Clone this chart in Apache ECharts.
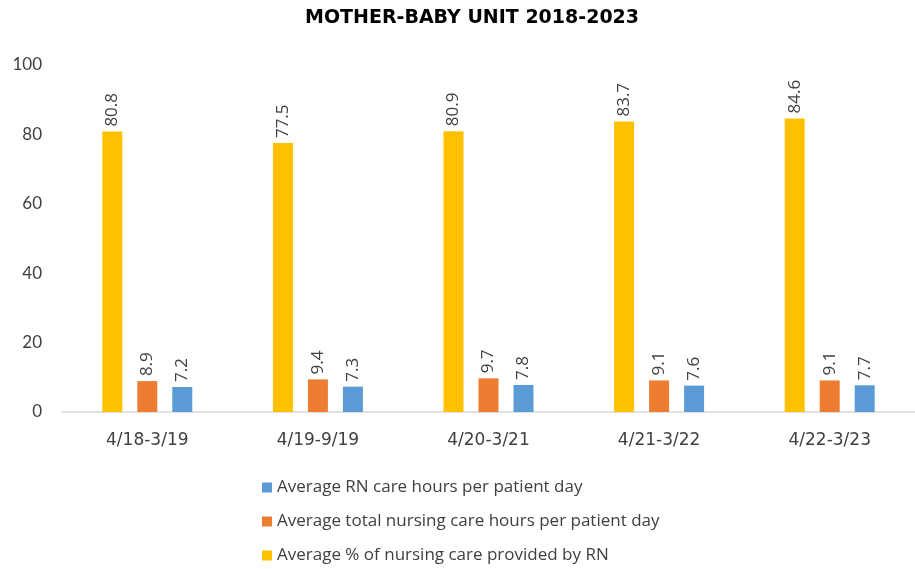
<!DOCTYPE html>
<html>
<head>
<meta charset="utf-8">
<script src="https://cdn.jsdelivr.net/npm/echarts@6/dist/echarts.min.js"></script>
<style>
  html, body { margin: 0; padding: 0; background: #fff; }
  #chart { width: 915px; height: 569px; }
</style>
</head>
<body>
<div id="chart"></div>
<script>
// 数据
const periods = ['4/18-3/19', '4/19-9/19', '4/20-3/21', '4/21-3/22', '4/22-3/23'];
const pctByRN = [80.8, 77.5, 80.9, 83.7, 84.6];
const totalHours = [8.9, 9.4, 9.7, 9.1, 9.1];
const rnHours = [7.2, 7.3, 7.8, 7.6, 7.7];
const yTicks = [0, 20, 40, 60, 80, 100];

const names = {
  rn: 'Average RN care hours per patient day',
  total: 'Average total nursing care hours per patient day',
  pct: 'Average % of nursing care provided by RN'
};

const font = 'Lato, "Open Sans", sans-serif';
const wideFont = '"Open Sans", Lato, sans-serif';
const labelStyle = {
  show: true,
  position: 'top',
  rotate: 90,
  align: 'left',
  verticalAlign: 'middle',
  distance: 5,
  fontSize: 17,
  fontFamily: wideFont,
  color: '#404040'
};

function barSeries(name, data, color) {
  return {
    name: name,
    type: 'bar',
    data: data,
    barWidth: 20,
    barGap: '75%',
    itemStyle: { color: color },
    label: labelStyle
  };
}

const chart = echarts.init(document.getElementById('chart'));
chart.setOption({
  animation: false,
  title: {
    text: 'MOTHER-BABY UNIT 2018-2023',
    left: 300,
    top: 4,
    textStyle: { fontSize: 19, fontWeight: 'bold', fontFamily: '"DejaVu Sans", sans-serif', color: '#000' }
  },
  legend: {
    orient: 'vertical',
    left: 262,
    top: 479,
    height: 90,
    padding: 0,
    itemWidth: 10,
    itemHeight: 10,
    itemGap: 17,
    icon: 'rect',
    data: [names.rn, names.total, names.pct],
    textStyle: { fontSize: 17, fontFamily: wideFont, color: '#404040' }
  },
  grid: { left: 62, right: 0, top: 65, bottom: 157, containLabel: false },
  xAxis: {
    type: 'category',
    data: periods,
    axisLine: { lineStyle: { color: '#d9d9d9', width: 1.5 } },
    axisTick: { show: false },
    axisLabel: { fontSize: 17, fontFamily: '"DejaVu Sans", sans-serif', color: '#404040', margin: 20 }
  },
  yAxis: {
    type: 'value',
    min: yTicks[0],
    max: yTicks[yTicks.length - 1],
    interval: 20,
    splitLine: { show: false },
    axisLine: { show: false },
    axisTick: { show: false },
    axisLabel: { fontSize: 17, fontFamily: font, color: '#404040', margin: 20 }
  },
  series: [
    barSeries(names.pct, pctByRN, '#FFC000'),
    barSeries(names.total, totalHours, '#ED7D31'),
    barSeries(names.rn, rnHours, '#5B9BD5')
  ]
});
</script>
</body>
</html>
